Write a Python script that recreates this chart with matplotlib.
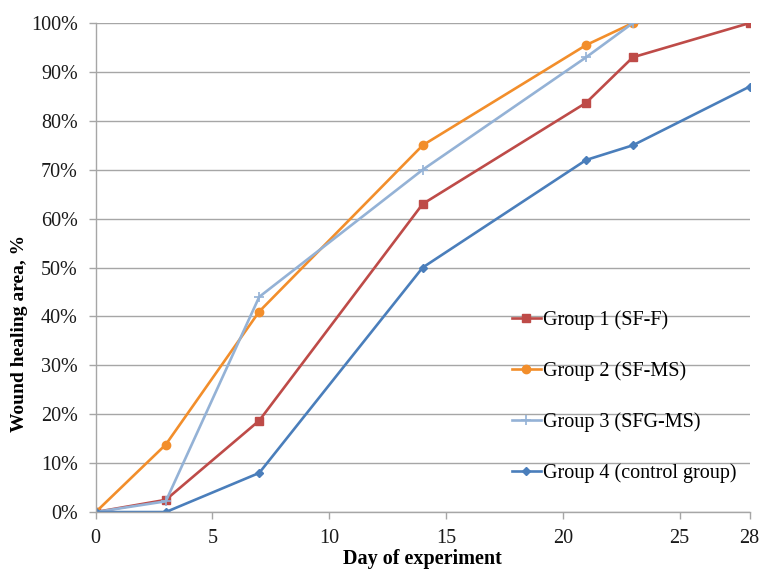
import matplotlib
matplotlib.use("Agg")
import matplotlib.pyplot as plt
from matplotlib.ticker import FuncFormatter

plt.rcParams['font.family'] = ['Liberation Serif', 'DejaVu Serif']

# Data
days_long = [0, 3, 7, 14, 21, 23, 28]
days_short = [0, 3, 7, 14, 21, 23]
group1 = [0.0, 2.5, 18.7, 63.0, 83.7, 93.0, 100.0]
group2 = [0.0, 13.8, 41.0, 75.0, 95.5, 100.0]
group3 = [0.0, 2.2, 44.0, 70.0, 93.0, 100.0]
group4 = [0.0, 0.0, 8.0, 50.0, 72.0, 75.0, 87.0]

labels = ["Group 1 (SF-F)", "Group 2 (SF-MS)", "Group 3 (SFG-MS)", "Group 4 (control group)"]
x_ticks = [0, 5, 10, 15, 20, 25, 28]
y_ticks = [0, 10, 20, 30, 40, 50, 60, 70, 80, 90, 100]

fig = plt.figure(figsize=(7.72, 5.76), dpi=100)
ax = fig.add_axes([0.124, 0.111, 0.847, 0.849])

grid_col = "#A6A6A6"
ax.grid(axis="y", color=grid_col, linewidth=1.0)
ax.set_axisbelow(True)

ax.plot(days_long, group1, color="#BE4B48", lw=1.9, marker="s", ms=6, label=labels[0])
ax.plot(days_short, group2, color="#F28E2B", lw=1.9, marker="o", ms=6, label=labels[1])
ax.plot(days_short, group3, color="#94B2D6", lw=1.9, marker="+", ms=7, mew=1.2, label=labels[2])
ax.plot(days_long, group4, color="#4A7EBB", lw=1.9, marker="D", ms=4.5, label=labels[3])

ax.set_xlim(0, 28)
ax.set_ylim(0, 100)
ax.set_xticks(x_ticks)
ax.set_yticks(y_ticks)
ax.yaxis.set_major_formatter(FuncFormatter(lambda v, p: f"{v:.0f}%"))

for s in ["top", "right"]:
    ax.spines[s].set_visible(False)
for s in ["left", "bottom"]:
    ax.spines[s].set_color(grid_col)
    ax.spines[s].set_linewidth(1.0)
ax.tick_params(axis="both", colors=grid_col, length=5, width=1.0, labelsize=14.5, labelcolor="#1a1a1a")
ax.tick_params(axis="y", pad=8)
ax.tick_params(axis="x", pad=7)

ax.set_xlabel("Day of experiment", fontsize=14.5, fontweight="bold", labelpad=1)
ax.set_ylabel("Wound healing area, %", fontsize=14, fontweight="bold")
ax.yaxis.set_label_coords(-0.104, 0.366)

ax.legend(loc="center left", bbox_to_anchor=(0.636, 0.236), frameon=False, fontsize=14.5,
          labelspacing=1.55, handlelength=1.45, handletextpad=0.1, borderpad=0, borderaxespad=0)

fig.savefig("out.png", dpi=100)
